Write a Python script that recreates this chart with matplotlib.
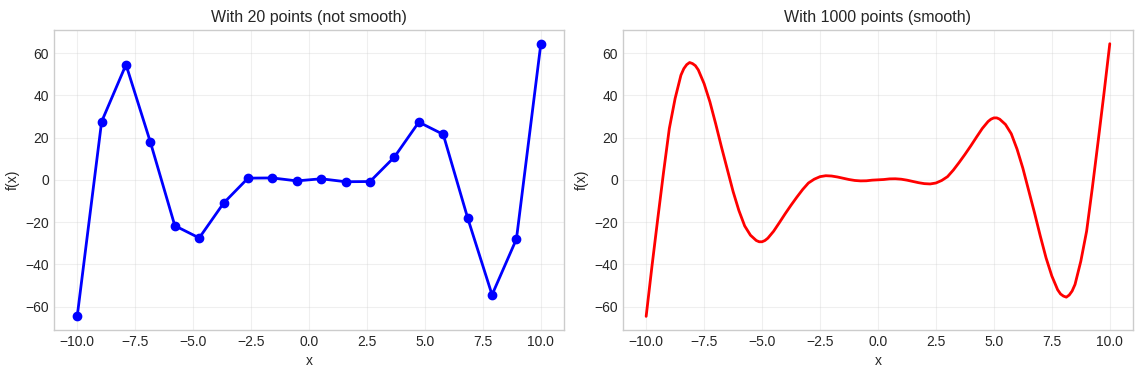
import numpy as np
import matplotlib
matplotlib.use("Agg")
import matplotlib.pyplot as plt

plt.style.use("seaborn-v0_8-whitegrid")

# 20 sample points (coarse)
x_coarse = [-10.0, -8.947, -7.895, -6.842, -5.789, -4.737, -3.684, -2.632, -1.579, -0.526,
            0.526, 1.579, 2.632, 3.684, 4.737, 5.789, 6.842, 7.895, 8.947, 10.0]
y_coarse = [-64.6, 27.5, 54.5, 17.8, -21.7, -27.5, -11.0, 0.8, 0.9, -0.5,
            0.5, -0.9, -0.8, 10.8, 27.3, 21.5, -18.0, -54.4, -28.0, 64.4]

# dense curve
x_fine = [-10.0, -9.75, -9.5, -9.25, -9.0, -8.75, -8.5, -8.375, -8.25, -8.125,
          -8.0, -7.875, -7.75, -7.5, -7.25, -7.0, -6.75, -6.5, -6.25, -6.0,
          -5.75, -5.5, -5.25, -5.125, -5.0, -4.875, -4.75, -4.5, -4.25, -4.0,
          -3.75, -3.5, -3.25, -3.0, -2.75, -2.5, -2.25, -2.0, -1.75, -1.5,
          -1.25, -1.0, -0.75, -0.5, -0.25, 0.0, 0.25, 0.5, 0.75, 1.0,
          1.25, 1.5, 1.75, 2.0, 2.25, 2.5, 2.75, 3.0, 3.25, 3.5,
          3.75, 4.0, 4.25, 4.5, 4.75, 4.875, 5.0, 5.125, 5.25, 5.5,
          5.75, 6.0, 6.25, 6.5, 6.75, 7.0, 7.25, 7.5, 7.75, 7.875,
          8.0, 8.125, 8.25, 8.375, 8.5, 8.75, 9.0, 9.25, 9.5, 9.75, 10.0]
y_fine = [-64.6, -41.0, -18.5, 3.5, 24.3, 38.5, 49.5, 52.6, 54.5, 55.5,
          55.0, 54.0, 52.0, 45.5, 36.9, 26.5, 15.5, 5.0, -5.5, -14.5,
          -21.8, -26.2, -28.7, -29.3, -29.3, -28.7, -27.6, -24.3, -20.2, -16.0,
          -12.0, -8.2, -4.6, -1.5, 0.3, 1.5, 1.95, 1.8, 1.35, 0.75,
          0.15, -0.3, -0.5, -0.45, -0.15, 0.0, 0.15, 0.45, 0.5, 0.3,
          -0.15, -0.75, -1.35, -1.8, -1.95, -1.5, -0.3, 1.5, 4.6, 8.2,
          12.0, 16.0, 20.2, 24.3, 27.6, 28.7, 29.3, 29.3, 28.7, 26.2,
          21.8, 14.5, 5.5, -5.0, -15.5, -26.5, -36.9, -45.5, -52.0, -54.0,
          -55.0, -55.5, -54.5, -52.6, -49.5, -38.5, -24.3, -3.5, 18.5, 41.0, 64.4]

fig = plt.figure(figsize=(11.42, 3.74), dpi=100)
ax1 = fig.add_axes([0.0473, 0.1176, 0.4466, 0.802])
ax2 = fig.add_axes([0.5455, 0.1176, 0.4466, 0.802])

ax1.plot(x_coarse, y_coarse, "b-o", linewidth=2, markersize=6)
ax1.set_title("With 20 points (not smooth)", fontsize=11.5)
ax1.set_xlabel("x")
ax1.set_ylabel("f(x)")
ax1.grid(True, alpha=0.3)

ax2.plot(x_fine, y_fine, "r-", linewidth=2)
ax2.set_title("With 1000 points (smooth)", fontsize=11.5)
ax2.set_xlabel("x")
ax2.set_ylabel("f(x)")
ax2.grid(True, alpha=0.3)

for ax in (ax1, ax2):
    ax.set_yticks([-60, -40, -20, 0, 20, 40, 60])

fig.savefig("out.png", dpi=100)
